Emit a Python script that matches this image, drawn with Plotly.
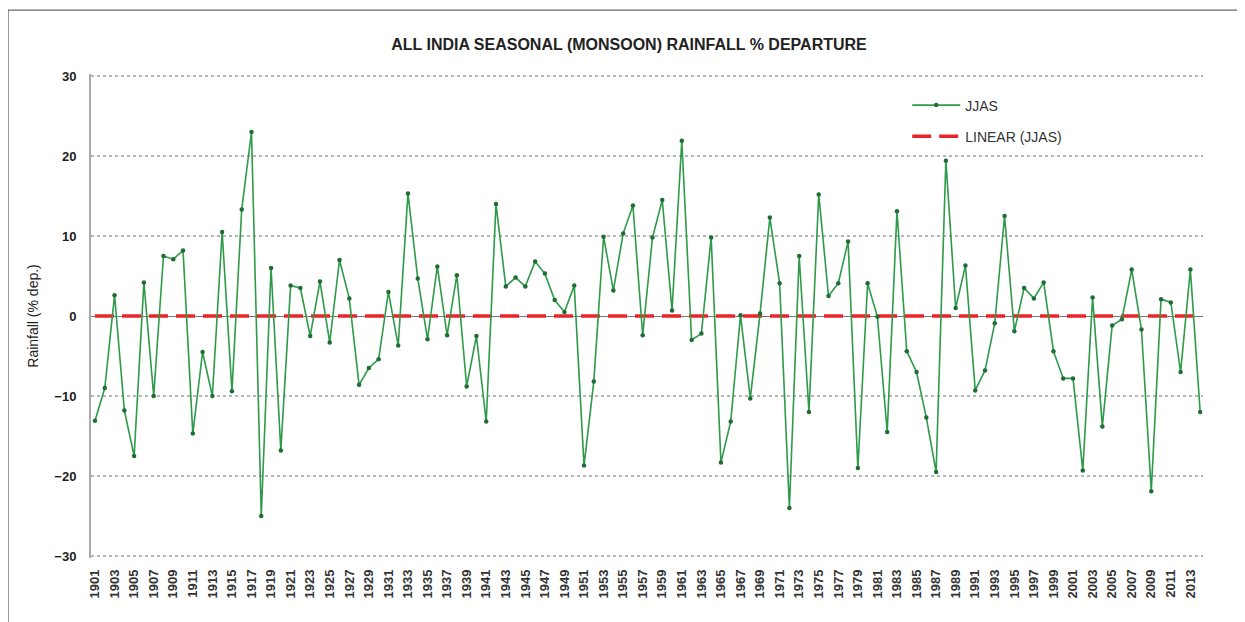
import plotly.graph_objects as go

# years and JJAS % departure
years = list(range(1901, 2015))
jjas = [
    -13.1, -9.0, 2.6, -11.8, -17.5, 4.2, -10.0, 7.5, 7.1, 8.2,      # 1901-1910
    -14.7, -4.5, -10.0, 10.5, -9.4, 13.3, 23.0, -25.0, 6.0, -16.8,  # 1911-1920
    3.8, 3.5, -2.5, 4.3, -3.3, 7.0, 2.2, -8.6, -6.5, -5.4,          # 1921-1930
    3.0, -3.7, 15.3, 4.7, -2.9, 6.2, -2.4, 5.1, -8.8, -2.5,         # 1931-1940
    -13.2, 14.0, 3.7, 4.8, 3.7, 6.8, 5.3, 2.0, 0.5, 3.8,            # 1941-1950
    -18.7, -8.2, 9.9, 3.2, 10.3, 13.8, -2.4, 9.8, 14.5, 0.7,        # 1951-1960
    21.9, -3.0, -2.2, 9.8, -18.3, -13.2, 0.1, -10.3, 0.3, 12.3,     # 1961-1970
    4.1, -24.0, 7.5, -12.0, 15.2, 2.5, 4.1, 9.3, -19.0, 4.1,        # 1971-1980
    -0.1, -14.5, 13.1, -4.4, -7.0, -12.7, -19.5, 19.4, 1.0, 6.3,    # 1981-1990
    -9.3, -6.8, -0.9, 12.5, -1.9, 3.5, 2.2, 4.2, -4.4, -7.8,        # 1991-2000
    -7.8, -19.3, 2.3, -13.8, -1.2, -0.4, 5.8, -1.7, -21.9, 2.1,     # 2001-2010
    1.7, -7.0, 5.8, -12.0,                                          # 2011-2014
]
# linear trend as drawn (flat at zero)
trend_years = [1901, 2014]
trend_values = [0.0, 0.0]

tick_years = years[::2]
y_ticks = [-30, -20, -10, 0, 10, 20, 30]

FONT = "Liberation Sans, Arial, sans-serif"

fig = go.Figure()
fig.add_trace(go.Scatter(
    x=trend_years, y=trend_values, mode='lines', name='LINEAR (JJAS)',
    line=dict(color='#e8262a', width=3.5, dash='19px,8px'),
    legendgroup='trend', legendrank=2,
))
fig.add_trace(go.Scatter(
    x=years, y=jjas, mode='lines+markers', name='JJAS',
    line=dict(color='#2e9a4a', width=1.6),
    marker=dict(color='#1f6e35', size=4.5),
    legendgroup='jjas', legendrank=1,
))

# page body adds an 8px margin, so the figure is sized to fill the window
fig.update_layout(
    width=1237, height=614,
    paper_bgcolor='white', plot_bgcolor='white',
    margin=dict(l=83, r=42, t=66, b=64),
    title=dict(text='ALL INDIA SEASONAL (MONSOON) RAINFALL % DEPARTURE',
               x=0.502, xanchor='center', y=0.941, yanchor='middle',
               font=dict(family=FONT, size=16, color='#222', weight='bold')),
    font=dict(family=FONT, color='#222'),
    showlegend=True,
    legend=dict(x=0.734, y=0.968, xanchor='left', yanchor='top',
                bgcolor='rgba(0,0,0,0)', tracegroupgap=10, itemwidth=48,
                font=dict(family=FONT, size=14, color='#333')),
    shapes=[dict(type='rect', xref='paper', yref='paper',
                 x0=-0.0746, x1=1.2, y0=-0.3, y1=1.132,
                 line=dict(color='#444', width=1), layer='below')],
)
fig.update_xaxes(
    range=[1900.59, 2014.29], tickmode='array', tickvals=tick_years,
    ticktext=[str(y) for y in tick_years], tickangle=-90,
    tickfont=dict(family=FONT, size=13, color='#333', weight='bold'),
    showgrid=False, zeroline=False, showline=False, ticks='',
    ticklabelstandoff=8,
)
fig.update_yaxes(
    range=[-30.25, 30.25], tickvals=y_ticks,
    tickfont=dict(family=FONT, size=13, color='#222', weight='bold'),
    showgrid=True, gridcolor='#b5b5b5', griddash='dot', gridwidth=1.5,
    zeroline=True, zerolinecolor='#777', zerolinewidth=1,
    showline=True, linecolor='#aaa', linewidth=2,
    ticks='', ticklabelstandoff=10,
    title=dict(text='Rainfall (% dep.)', standoff=12,
               font=dict(family=FONT, size=14, color='#222')),
)

fig.write_html("out.html")
